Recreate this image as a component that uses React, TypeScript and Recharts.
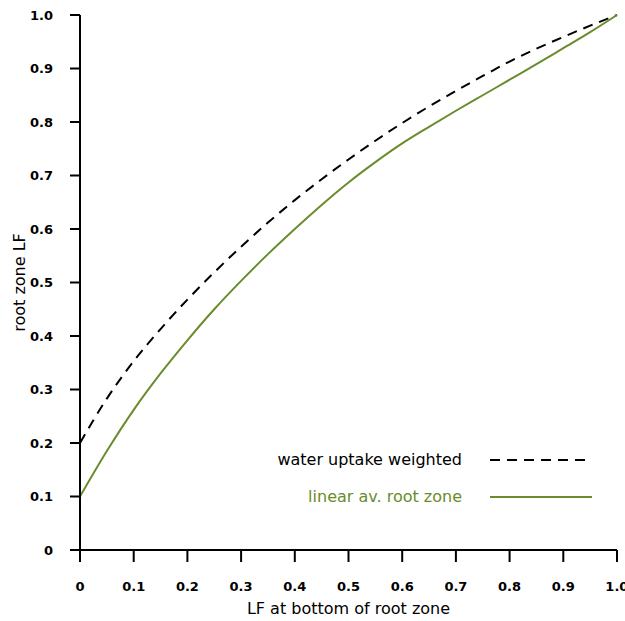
import React from 'react';
import { LineChart, Line, XAxis, YAxis } from 'recharts';

// LF at the bottom of the root zone (x) and the two root zone LF estimates (y)
const LF_BOTTOM = [0, 0.05, 0.1, 0.15, 0.2, 0.25, 0.3, 0.35, 0.4, 0.45, 0.5, 0.55, 0.6, 0.65, 0.7, 0.75, 0.8, 0.85, 0.9, 0.95, 1.0];
const UPTAKE_WEIGHTED = [0.2, 0.283, 0.353, 0.413, 0.468, 0.519, 0.567, 0.612, 0.654, 0.693, 0.73, 0.765, 0.798, 0.829, 0.858, 0.886, 0.913, 0.937, 0.959, 0.98, 1.0];
const LINEAR_AVERAGE = [0.1, 0.185, 0.262, 0.33, 0.392, 0.45, 0.503, 0.553, 0.6, 0.645, 0.687, 0.725, 0.76, 0.791, 0.821, 0.85, 0.879, 0.908, 0.938, 0.968, 1.0];

const X_TICKS = [0, 0.1, 0.2, 0.3, 0.4, 0.5, 0.6, 0.7, 0.8, 0.9, 1.0];
const Y_TICKS = [0, 0.1, 0.2, 0.3, 0.4, 0.5, 0.6, 0.7, 0.8, 0.9, 1.0];

const GREEN = '#6a8c2c';
const FONT = '"DejaVu Sans", sans-serif';

const SERIES = [
  { key: 'weighted', name: 'water uptake weighted', color: '#000', dash: '10 7' },
  { key: 'linear', name: 'linear av. root zone', color: GREEN, dash: undefined },
];

const data = LF_BOTTOM.map((x, i) => ({
  x,
  weighted: UPTAKE_WEIGHTED[i],
  linear: LINEAR_AVERAGE[i],
}));

const fmt = (v: number) => (v === 0 ? '0' : v.toFixed(1));

// legend sits inside the plot, lower right, without taking space from it
const LegendBox = () => (
  <div style={{ position: 'absolute', left: 262, top: 441, fontFamily: FONT, fontSize: 16 }}>
    {SERIES.map(s => (
      <div key={s.key} style={{ display: 'flex', alignItems: 'center', height: 37 }}>
        <span style={{ width: 200, textAlign: 'right', color: s.color, whiteSpace: 'nowrap' }}>{s.name}</span>
        <svg width={102} height={10} style={{ marginLeft: 28 }}>
          <line x1={0} y1={5} x2={102} y2={5} stroke={s.color} strokeWidth={2} strokeDasharray={s.dash} />
        </svg>
      </div>
    ))}
  </div>
);

const YLabel = ({ viewBox }: any) => {
  const cx = viewBox.x + 19;
  const cy = viewBox.y + viewBox.height / 2;
  return (
    <text x={cx} y={cy} transform={`rotate(-90, ${cx}, ${cy})`} textAnchor="middle" dominantBaseline="central"
      fontFamily={FONT} fontSize={16} fill="#000">
      root zone LF
    </text>
  );
};

export default function App() {
  return (
    <div style={{ position: 'absolute', left: 0, top: 0, width: 625, height: 621, background: '#fff' }}>
      <LineChart width={625} height={621} data={data} margin={{ top: 15, right: 8, left: 0, bottom: 0 }}>
        <XAxis
          dataKey="x"
          type="number"
          domain={[0, 1]}
          ticks={X_TICKS}
          tickFormatter={fmt}
          height={71}
          stroke="#000"
          strokeWidth={2}
          tickSize={12}
          tickMargin={20}
          tick={{ fill: '#000', fontSize: 13, fontWeight: 'bold', fontFamily: FONT }}
          label={{ value: 'LF at bottom of root zone', position: 'insideBottom', offset: 7, fill: '#000', fontSize: 16, fontFamily: FONT }}
        />
        <YAxis
          type="number"
          domain={[0, 1]}
          ticks={Y_TICKS}
          tickFormatter={fmt}
          width={80}
          stroke="#000"
          strokeWidth={2}
          tickSize={10}
          tickMargin={17}
          tick={{ fill: '#000', fontSize: 13, fontWeight: 'bold', fontFamily: FONT }}
          label={{ content: YLabel }}
        />
        {SERIES.map(s => (
          <Line
            key={s.key}
            type="monotone"
            dataKey={s.key}
            name={s.name}
            stroke={s.color}
            strokeWidth={2}
            strokeDasharray={s.dash}
            dot={false}
            activeDot={false}
            isAnimationActive={false}
          />
        ))}
      </LineChart>
      <LegendBox />
    </div>
  );
}
